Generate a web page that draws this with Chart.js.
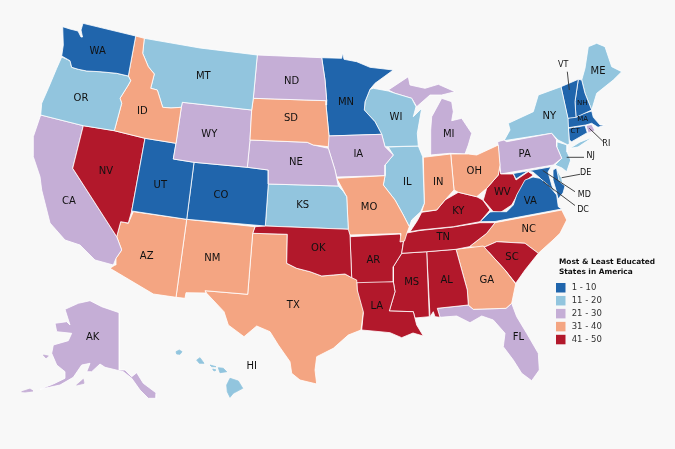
<!DOCTYPE html>
<html>
<head>
  <title>Most & Least Educated States in America</title>
  <script src="https://cdn.jsdelivr.net/npm/chart.js"></script>
  <style>
    html, body { margin: 0; padding: 0; background: #f8f8f8; }
    canvas { display: block; }
  </style>
</head>
<body>
  <canvas id="Map" width="675" height="449"></canvas>
  <script>
    // Rank buckets
    const legendTitle = ['Most & Least Educated', 'States in America'];
    const bucketLabels = ['1 - 10', '11 - 20', '21 - 30', '31 - 40', '41 - 50'];
    const bucketColors = ['#2065ac', '#92c5de', '#c5aed6', '#f4a582', '#b2182b'];
    const dcColor = '#cddbe5';

    // Which bucket each state falls in (index into bucketLabels)
    const stateBuckets = {
      WA: 0, MN: 0, UT: 0, CO: 0, VA: 0, MD: 0, VT: 0, NH: 0, MA: 0, CT: 0,
      OR: 1, MT: 1, WI: 1, IL: 1, KS: 1, NY: 1, NJ: 1, ME: 1, HI: 1, DE: 1,
      CA: 2, WY: 2, ND: 2, NE: 2, IA: 2, MI: 2, PA: 2, FL: 2, AK: 2, RI: 2,
      ID: 3, SD: 3, AZ: 3, NM: 3, TX: 3, MO: 3, IN: 3, OH: 3, NC: 3, GA: 3,
      NV: 4, OK: 4, AR: 4, LA: 4, MS: 4, AL: 4, TN: 4, KY: 4, WV: 4, SC: 4
    };

    // State outlines in map units
    const WA = [[[62.7,26.7],[70,29],[78,31],[81,37],[82.5,37],[81,30],[83,23.3],[135.7,36],[128.3,76],[116.7,73.3],[100,71.7],[86.7,71],[78.3,69.3],[71.7,67.3],[70,60.7],[61.7,56],[63.3,45]]];
    const OR = [[[61.7,57],[70,60.7],[71.7,67.3],[78.3,69.3],[86.7,71],[100,71.7],[116.7,73.3],[128.3,76],[130.7,80.7],[128.3,85],[120,98.3],[121.7,103.3],[114.3,130.7],[83.3,125.7],[40.7,115],[41.7,103.3],[48.3,88.3],[56.7,68.3]]];
    const ID = [[[135.7,36],[144.3,38.3],[142.7,53.3],[148.3,66.7],[154.3,74],[150.7,88.3],[157.3,90],[162.7,107.3],[171,108],[181.3,107.3],[176,143.3],[145,138.3],[114.3,130.7],[121.7,103.3],[120,98.3],[128.3,85],[130.7,80.7],[128.3,76]]];
    const MT = [[[144.3,38.3],[200,48],[257.3,55],[253.3,98.3],[251.7,110],[182.3,102.3],[181.3,107.3],[171,108],[162.7,107.3],[157.3,90],[150.7,88.3],[154.3,74],[148.3,66.7],[142.7,53.3]]];
    const ND = [[[257.3,55],[321.7,57.7],[325,80],[326.7,100.7],[253.3,98.3]]];
    const SD = [[[253.3,98.3],[326.7,100.7],[326,105],[329,136],[328.3,146.7],[313.3,145],[307.3,142.3],[250,140],[251.7,110]]];
    const WY = [[[182.3,102.3],[251.7,110],[250,140],[247.3,167.3],[194,162.3],[173.3,159],[176,143.3],[181.3,107.3]]];
    const NE = [[[250,140],[307.3,142.3],[313.3,145],[328.3,148.3],[335,170],[338.3,186],[268.3,184],[268.3,170],[247.3,167.3]]];
    const UT = [[[145,138.3],[176,143.3],[173.3,159],[194,162.3],[186.7,219.3],[131.7,211]]];
    const CO = [[[194,162.3],[247.3,167.3],[268.3,170],[268.3,184],[265.3,226],[186.7,219.3]]];
    const NV = [[[83.3,125.7],[114.3,130.7],[145,138.3],[131.7,211],[128.3,223],[120.7,221.7],[116.7,236.7],[72.7,168.3]]];
    const CA = [[[40.7,115],[83.3,125.7],[72.7,168.3],[116.7,236.7],[121.7,250],[116,258.3],[113.3,265],[95,260],[80,245],[65,240],[50,223],[41.7,190],[40,176.7],[33.3,156.7],[33.3,136.7]]];
    const AZ = [[[133.3,211.7],[186.7,219.3],[176,297.3],[153.3,294],[110,268.3],[115,265],[116,258.3],[121.7,250],[116.7,236.7],[120.7,221.7],[128.3,223.3]]];
    const NM = [[[186.7,219.3],[255,226.7],[252.7,233.3],[247.7,294.3],[205,290.7],[206,293],[186,292.7],[185,298.3],[176,297.3]]];
    const OK = [[[255,226.7],[265.3,226],[348.3,229.3],[350,235],[351.7,277.7],[345,274],[333.3,275],[321.7,276],[310,271.7],[296.7,268.3],[286.7,263.3],[287.3,234.3],[252.7,233.3]]];
    const TX = [[[252.7,233.3],[287.3,234.3],[286.7,263.3],[296.7,268.3],[310,271.7],[321.7,276],[333.3,275],[345,274],[351.7,277.7],[356.7,280],[357.3,290],[363.3,311.7],[361,330],[348.3,335],[333.3,348.3],[316.7,356.7],[315,370],[316.7,384],[300,380],[291.7,373.3],[290,361.7],[278.3,345],[270,331.7],[256.7,326],[244,336.7],[228.3,325],[224,311.7],[206.7,293.3],[205,290.7],[247.7,294.3]]];
    const KS = [[[268.3,184],[338.3,186],[343,191],[346.7,196.7],[348.3,229.3],[265.3,226]]];
    const MO = [[[336.7,178.3],[385,175.7],[383.3,185],[395,200],[403.3,215],[409.3,226.7],[407,233],[404.5,241],[400,242],[401,233.5],[350,235],[348.3,230],[346.7,196.7]]];
    const IA = [[[326.7,136],[381.7,134.3],[385,146.7],[393.3,155],[385,165],[385,175.7],[336.7,177],[335,170],[328.3,148.3]]];
    const MN = [[[321.7,57.7],[341.7,58.3],[342.7,52.7],[344,59.3],[356.7,61.7],[370,67.3],[393.3,70],[375,83.3],[370,89.3],[365,101.7],[364.3,110],[375,121.7],[381.7,134.3],[329,136],[326,105],[326.7,100.7],[325,80]]];
    const WI = [[[370,89.3],[373.3,88.3],[388.3,91],[395,93.3],[411.7,98.3],[416,106.7],[413.3,116.7],[421.7,108.3],[417.3,133.3],[418.3,146],[388.3,146.7],[385,146.7],[381.7,134.3],[375,121.7],[364.3,110],[365,101.7]]];
    const IL = [[[388.3,147],[418.3,146],[422.7,156.7],[424.3,203.3],[420.7,211.7],[411.7,220],[409.3,226.7],[403.3,215],[395,200],[383.3,185],[385,175.7],[385,165],[393.3,155]]];
    const IN = [[[423.3,157.3],[450.7,154],[454,190],[445,200],[436.7,210],[421.7,211.7],[424.3,203.3]]];
    const OH = [[[450.7,154],[468.3,154],[476.7,155],[498.3,145],[500,165],[498.3,175],[486.7,188.3],[476.7,196.7],[458.3,192.3],[454,190]]];
    const MI = [
      [[430,155],[430.7,130],[431.7,116.7],[441.7,98.3],[451.7,101.7],[453.3,111.7],[451.7,120.7],[461.7,118.3],[471.7,133.3],[468.3,145],[465,154],[450,153.3]],
      [[388.3,90],[408.3,76.7],[410,85],[425,88.3],[438.3,84.3],[455,91.7],[441.7,95],[430,95],[416.7,106.7],[411.7,98.3],[395,93.3]]
    ];
    const KY = [[[410,231.7],[417.3,220.7],[421.7,212.3],[436.7,210],[445,200],[458.3,192.3],[476.7,196.7],[482.7,200],[490,210],[480,221.7],[453.3,226.7],[420,230]]];
    const TN = [[[405,233.3],[420,230.5],[453.3,227],[480,222.7],[495,222.7],[486.7,233.3],[469.3,246.7],[456,249.3],[426.7,251.7],[401.7,253.3],[403.3,243.3]]];
    const AR = [[[350,236.7],[400,234],[403.3,241.7],[401.7,253.3],[393.3,266.7],[393.3,281.7],[356.7,282.7],[351.7,278.3]]];
    const LA = [[[356.7,281],[393.3,281.7],[395,291.7],[389.3,311],[413.3,311.7],[416.7,325],[423.3,336],[413,333],[401.7,337.7],[390,332.7],[380,331.7],[361.7,330],[363.3,313],[357.3,296.7]]];
    const MS = [[[401.7,253.3],[426.7,251.7],[429.3,316.7],[415,318],[413.3,311.7],[389.3,311],[395,291.7],[393.3,281.7],[393.3,266.7]]];
    const AL = [[[426.7,251.7],[456,249.3],[467.3,290],[468.3,305],[437.3,308.3],[440,317.3],[435,316.7],[433.3,311.7],[430,316.7]]];
    const GA = [[[456,249.3],[483.3,246],[488.3,251.7],[505,270],[515.7,284],[511.7,303.3],[506,308.3],[473.3,309.3],[468.3,305],[467.3,290]]];
    const SC = [[[481.7,248.3],[496.7,241.7],[525,243.3],[538.3,253.3],[525,270],[515.7,283.3],[505,270],[488.3,251.7]]];
    const NC = [[[469.3,246.7],[486.7,233.3],[495,222.7],[561.7,210],[566.7,220],[560,233.3],[553,240],[538.3,253.3],[525,243.3],[496.7,241.7],[481.7,248.3]]];
    const VA = [[[480,221.7],[490,212],[493,211.7],[506.7,211.7],[513.3,205],[516.7,195],[525,180],[533,177],[540,178.3],[548.3,185],[556.7,195],[558.3,206.7],[561.7,209],[495,221.5]]];
    const MD = [
      [[513.3,173.5],[551,166.8],[548,172],[552,186],[555,193],[548,187],[540,178],[533,172],[528,171],[516,179]],
      [[553,170],[556.5,168],[559,181],[565,186],[563,193],[558,199],[556,190],[553,180]]
    ];
    const WV = [[[498.3,165],[500.7,174],[513.3,174],[516,180],[528.3,171.7],[533.3,175],[526.7,180],[518.3,193.3],[511.7,205],[500,212.7],[493.3,211.7],[483.3,200],[486.7,188.3],[498.3,175]]];
    const PA = [[[497.7,141.7],[504,140],[506.7,141.7],[551.7,133.3],[556.7,140],[556.7,146.7],[561.7,158.3],[553.3,165],[500.7,174]]];
    const NY = [
      [[504,140.7],[510,130],[508.3,123.3],[533.3,111.7],[538.3,95],[561,86.7],[568,118.3],[569.3,143.3],[568,145],[558,140],[551.7,133.3]],
      [[570,148.3],[580,142],[593,137],[578,147]]
    ];
    const VT = [[[561,86.7],[578.3,79.3],[575,101.7],[576,117.3],[567.7,118.3]]];
    const NH = [[[578.3,79.3],[581.7,80],[585,93.3],[591.7,110],[576,117.3],[575,101.7]]];
    const ME = [[[581.7,80],[585,68.3],[588.3,46.7],[596.7,43.3],[605,46.7],[611.7,66.7],[621.7,71.7],[613.3,80],[596.7,93.3],[591.7,110],[585,93.3]]];
    const MA = [[[567.7,118.3],[591.7,111],[593.3,117.3],[600,125],[605,125],[598,127.3],[591.7,123.3],[585.7,125],[567.7,127.8]]];
    const CT = [[[568.3,128.3],[585,125.5],[587.3,132.7],[571.7,141.7],[569.3,140]]];
    const RI = [[[586,125.5],[591.7,124.5],[595,130.7],[588.3,132.7]]];
    const NJ = [[[556.7,141.7],[567.3,145],[567,152],[570.7,160],[566.7,171.7],[562,168],[555,165],[561.7,158.3],[556.7,146.7]]];
    const DE = [[[555,166.7],[561.7,178.3],[563,185],[558.3,182]]];
    const DC = [[[539.5,179.5],[542.7,177.5],[546,179.5],[546.3,182.5],[542.7,184.7],[539.3,182.5]]];
    const FL = [[[437.3,308.3],[468.3,305],[473.3,309.3],[506,308.3],[511.7,303.3],[516.7,316.7],[526.7,333.3],[538.3,353.3],[539.3,370],[531.7,380.7],[521.7,373.3],[513.3,360],[503.3,346.7],[505,333.3],[493.3,320],[481.7,316],[470,322.7],[456.7,316],[440,317.3]]];
    const AK = [
      [[65,309.3],[78.3,303.3],[90,300.7],[101.7,306.7],[119.3,312.7],[119.3,370],[125,370],[131.7,376.7],[136.7,372.7],[143.3,383.3],[156.7,393.3],[156,398.3],[148.3,398.3],[140,390],[131.7,378.3],[123.3,371.7],[105,367.3],[100,364],[91.7,371.7],[86.7,371.7],[90,363.3],[81.7,365],[73.3,377.3],[60,385],[40,389.3],[53.3,384],[65,378.3],[65,371.7],[56.7,365],[51.7,353.3],[53.3,345],[68.3,340.7],[71.7,333.3],[56.7,331.7],[55,323.3],[66.7,321.7],[70,325]],
      [[76.7,385],[83.3,379.3],[84,383.3]],
      [[43.3,355],[48.3,356],[46,358]],
      [[21.7,391.7],[30,389],[33,391],[25,392]]
    ];
    const HI = [
      [[226.7,385],[230,378.3],[238.3,381],[242.7,388.3],[233.3,393.3],[230,397.3],[227.3,391.7]],
      [[218.3,367.7],[223.3,368.3],[226.7,371.7],[220,372.7]],
      [[196.7,360],[200,357.7],[204,363.3],[199.3,363.3]],
      [[176,351.7],[179.3,350],[182,351.7],[180,354.3],[176.7,354]],
      [[210,365],[216,366.7],[211.7,366.7]],
      [[212.7,369],[216,370],[214,371]]
    ];

    const outlines = { WA, OR, ID, MT, ND, SD, WY, NE, UT, CO, NV, CA, AZ, NM, OK, TX, KS, MO, IA, MN, WI, IL, IN, OH, MI, KY, TN, AR, LA, MS, AL, GA, SC, NC, VA, MD, WV, PA, NY, VT, NH, ME, MA, CT, RI, NJ, DE, DC, FL, AK, HI };

    // State labels: [text, x, y]
    const bigLabels = [
      ['WA',97.7,51],['OR',81,98.3],['MT',203.3,76.7],['ID',142.3,111.7],['ND',291.7,81],['SD',291,118.3],
      ['WY',209.3,134],['NE',296,162.7],['NV',106,171],['UT',160.3,185.7],['CO',221,195.7],['CA',69,201.7],
      ['KS',302.7,205],['AZ',146.7,256.7],['NM',212.3,258.3],['TX',293.3,305.7],['OK',318.3,248.3],['AR',373.3,260],
      ['LA',376.7,306],['MS',411.7,282.7],['HI',251.7,366],['MO',369,207.5],['MN',346,102.7],['WI',396,117.7],
      ['IA',358.3,154],['IL',407.3,182.7],['MI',448.7,134.3],['IN',438.3,182.7],['OH',474.3,171.7],['KY',458.3,211.7],
      ['TN',443.3,237.7],['WV',502.3,192.7],['VA',530.3,201.7],['NC',528.7,229],['PA',524.7,154],['NY',549.3,116],
      ['ME',598,71.3],['SC',512,257.3],['GA',486.7,280],['AL',446.7,280],['FL',518.3,337.3],['AK',92.7,337.3]
    ];
    const outsideLabels = [
      ['VT',563.3,65.3],['RI',606.3,144.3],['NJ',590.7,156.3],['DE',585.7,173.3],['MD',584.3,195.3],['DC',583,209.7]
    ];
    const insideLabels = [['NH',582.3,103.3],['MA',582.7,119.3],['CT',575,130.7]];

    // Leader lines from the small states to their labels
    const leaders = [
      [[567.3,71.7],[569.3,90]],
      [[589.3,128.3],[603.3,141.7]],
      [[566.7,157.3],[584,157.3]],
      [[561.7,177.7],[580,174.3]],
      [[542.7,170.5],[575,191.7]],
      [[543,181.5],[575,205.5]]
    ];

    const toPoints = ring => ring.map(p => ({ x: p[0], y: p[1] }));

    const datasets = [];
    leaders.forEach(line => {
      datasets.push({ data: toPoints(line), showLine: true, fill: false, borderColor: '#333', borderWidth: 0.9, pointRadius: 0 });
    });
    Object.keys(outlines).forEach(state => {
      const color = state === 'DC' ? dcColor : bucketColors[stateBuckets[state]];
      outlines[state].forEach((ring, i) => {
        // islands keep their own colour as an edge, a white one would eat them
        const island = state === 'HI' || state === 'DC' || (i > 0 && state === 'AK');
        datasets.push({
          label: state,
          data: toPoints(ring.concat([ring[0]])),
          showLine: true,
          fill: 'shape',
          backgroundColor: color,
          borderColor: island ? color : '#fff',
          borderWidth: 0.8,
          pointRadius: 0
        });
      });
    });

    // Draws the state codes and the legend over the map
    const textPlugin = {
      id: 'mapText',
      afterDraw(chart) {
        const { ctx, scales } = chart;
        const drawLabels = labels => labels.forEach(l => {
          ctx.fillText(l[0], scales.x.getPixelForValue(l[1]), scales.y.getPixelForValue(l[2]));
        });
        ctx.save();
        ctx.textAlign = 'center';
        ctx.textBaseline = 'middle';
        ctx.fillStyle = '#111';
        ctx.font = '10px "DejaVu Sans"';
        drawLabels(bigLabels);
        ctx.font = '8px "DejaVu Sans"';
        drawLabels(outsideLabels);
        ctx.font = '7px "DejaVu Sans"';
        drawLabels(insideLabels);

        ctx.textAlign = 'left';
        ctx.font = 'bold 7.4px "DejaVu Sans"';
        legendTitle.forEach((t, i) => ctx.fillText(t, 559, 262.5 + i * 10));
        ctx.font = '8.5px "DejaVu Sans"';
        bucketLabels.forEach((t, i) => {
          const y = 287.7 + i * 12.95;
          ctx.fillStyle = bucketColors[i];
          ctx.fillRect(556, y - 4.7, 9.5, 9.5);
          ctx.fillStyle = '#333';
          ctx.fillText(t, 571.7, y);
        });
        ctx.restore();
      }
    };

    new Chart(document.getElementById('Map'), {
      type: 'scatter',
      data: { datasets: datasets },
      options: {
        responsive: false,
        animation: false,
        layout: { padding: 0 },
        plugins: { legend: { display: false }, tooltip: { enabled: false } },
        scales: {
          x: { type: 'linear', min: 0, max: 675, display: false },
          y: { type: 'linear', min: 0, max: 449, reverse: true, display: false }
        }
      },
      plugins: [textPlugin]
    });
  </script>
</body>
</html>
